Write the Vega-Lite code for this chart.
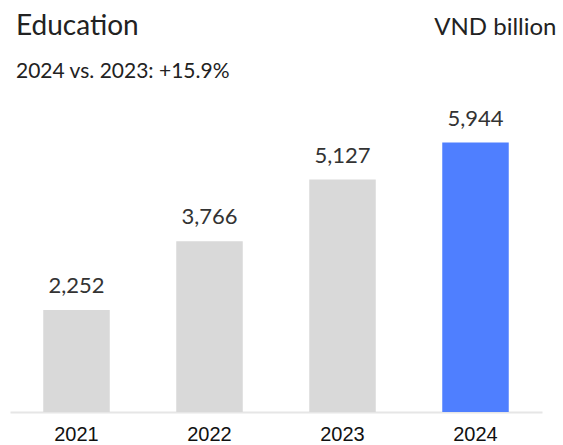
{
  "$schema": "https://vega.github.io/schema/vega-lite/v6.json",
  "autosize": "none",
  "width": 532,
  "height": 272,
  "padding": {"left": 10, "top": 140, "right": 21, "bottom": 33},
  "background": "white",
  "title": {
    "text": "Education",
    "subtitle": "2024 vs. 2023: +15.9%",
    "anchor": "start",
    "frame": "group",
    "dx": 6,
    "offset": -67,
    "font": "Lato",
    "fontSize": 28,
    "fontWeight": "normal",
    "color": "#222222",
    "subtitleFont": "Lato",
    "subtitleFontSize": 21,
    "subtitleColor": "#222222",
    "subtitlePadding": 20
  },
  "data": {
    "values": [
      {"year": "2021", "value": 2252, "highlight": "no"},
      {"year": "2022", "value": 3766, "highlight": "no"},
      {"year": "2023", "value": 5127, "highlight": "no"},
      {"year": "2024", "value": 5944, "highlight": "yes"}
    ]
  },
  "encoding": {
    "x": {
      "field": "year",
      "type": "nominal",
      "scale": {"paddingInner": 0.5, "paddingOuter": 0.25},
      "axis": {
        "title": null,
        "labelAngle": 0,
        "labelFont": "Liberation Sans",
        "labelFontSize": 20,
        "labelColor": "#111111",
        "labelPadding": 12,
        "ticks": false,
        "domainColor": "#e6e6e6",
        "domainWidth": 2
      }
    },
    "y": {
      "field": "value",
      "type": "quantitative",
      "scale": {"domain": [0, 6000], "nice": false},
      "axis": {
        "orient": "right",
        "title": "VND billion",
        "titleAngle": 0,
        "titleX": 14,
        "titleY": -106,
        "titleAlign": "right",
        "titleBaseline": "alphabetic",
        "titleFont": "Lato",
        "titleFontSize": 24,
        "titleFontWeight": "normal",
        "titleColor": "#222222",
        "labels": false,
        "ticks": false,
        "domain": false,
        "grid": false
      }
    }
  },
  "layer": [
    {
      "mark": {"type": "bar"},
      "encoding": {
        "color": {
          "field": "highlight",
          "type": "nominal",
          "scale": {"domain": ["no", "yes"], "range": ["#d9d9d9", "#4f7fff"]},
          "legend": null
        }
      }
    },
    {
      "mark": {
        "type": "text",
        "dy": -17,
        "baseline": "alphabetic",
        "font": "Lato",
        "fontSize": 22,
        "color": "#333333"
      },
      "encoding": {
        "text": {"field": "value", "type": "quantitative", "format": ","}
      }
    }
  ],
  "config": {"view": {"stroke": null}}
}
